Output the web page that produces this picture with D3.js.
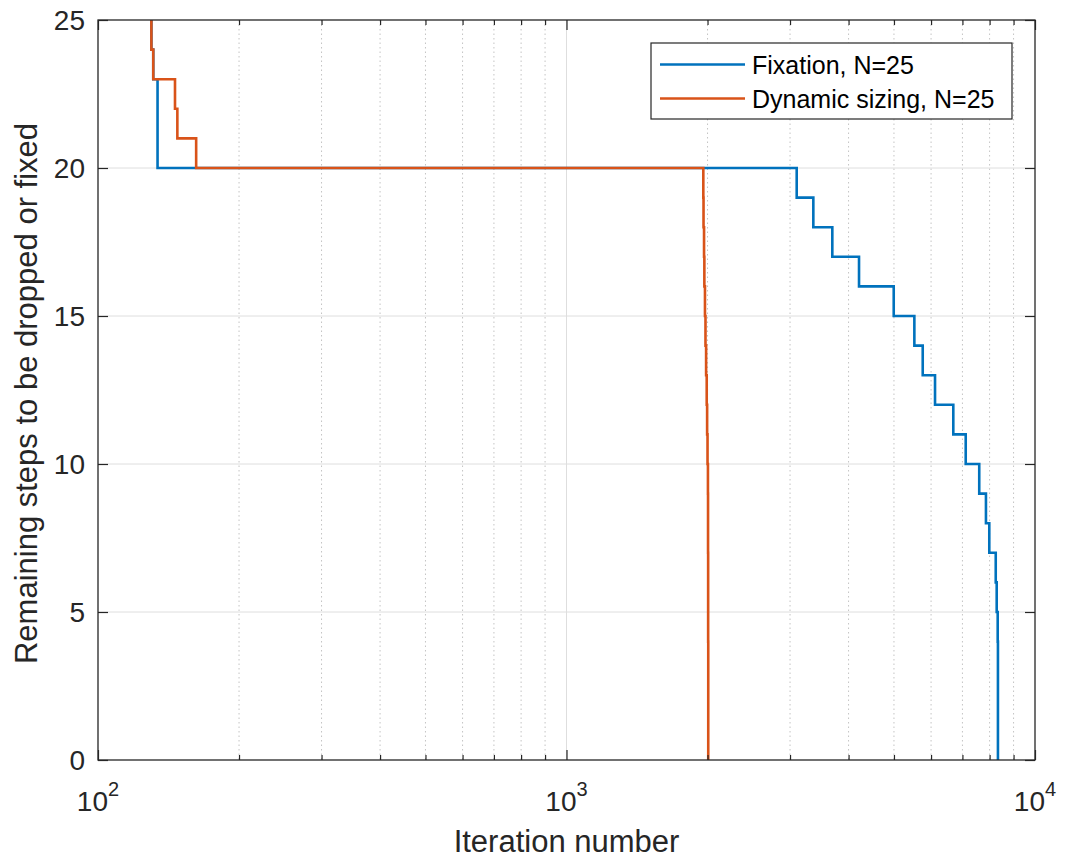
<!DOCTYPE html>
<html>
<head>
<meta charset="utf-8">
<script src="https://cdn.jsdelivr.net/npm/d3@7"></script>
<style>
  body { margin: 0; background: #fff; }
  svg { display: block; font-family: "Liberation Sans", Arial, Helvetica, sans-serif; }
</style>
</head>
<body>
<svg id="chart" width="1067" height="862"></svg>
<script>
// ---- data ----
const seriesNames = ["Fixation, N=25", "Dynamic sizing, N=25"];
// iteration where the remaining-count changes to the paired value (stairs)
const fixationX = [130, 130, 131.2, 134, 3100, 3364, 3693, 4211, 4994, 5527, 5759, 6118, 6693, 7114, 7603, 7858, 7988, 8245, 8284, 8325, 8335, 8335, 8335, 8335];
const fixationY = [25, 24, 23, 20, 19, 18, 17, 16, 15, 14, 13, 12, 11, 10, 9, 8, 7, 6, 5, 4, 3, 2, 1, 0];
const dynamicX = [130, 130, 131.2, 146, 147.7, 162, 1959, 1961, 1966, 1969, 1975, 1980, 1986, 1992, 1996, 2000, 2004, 2005, 2005, 2006, 2006, 2006, 2007, 2007, 2007, 2007];
const dynamicY = [25, 24, 23, 22, 21, 20, 19, 18, 17, 16, 15, 14, 13, 12, 11, 10, 9, 8, 7, 6, 5, 4, 3, 2, 1, 0];
const yTicks = [0, 5, 10, 15, 20, 25];
const xMajorTicks = [100, 1000, 10000];
const xTickExponents = ["2", "3", "4"];
const xMinorTicks = [200, 300, 400, 500, 600, 700, 800, 900, 2000, 3000, 4000, 5000, 6000, 7000, 8000, 9000];
const xLabel = "Iteration number";
const yLabel = "Remaining steps to be dropped or fixed";
const colors = ["#0072BD", "#D95319"];

// ---- layout ----
const svg = d3.select("#chart");
const L = 98, R = 1035, T = 20, B = 760;
const x = d3.scaleLog().domain([100, 10000]).range([L, R]);
const y = d3.scaleLinear().domain([0, 25]).range([B, T]);
const axisColor = "#262626";

svg.append("rect").attr("width", 1067).attr("height", 862).attr("fill", "#fff");

// clip
svg.append("defs").append("clipPath").attr("id", "clip")
  .append("rect").attr("x", L).attr("y", T).attr("width", R - L).attr("height", B - T);

// minor grid (dotted)
svg.append("g").selectAll("line").data(xMinorTicks).join("line")
  .attr("x1", d => x(d)).attr("x2", d => x(d)).attr("y1", T).attr("y2", B)
  .attr("stroke", "#c4c4c4").attr("stroke-width", 1).attr("stroke-dasharray", "1.5,3");

// major grid
const gGrid = svg.append("g");
gGrid.selectAll("line.h").data(yTicks.filter(d => d > 0 && d < 25)).join("line")
  .attr("x1", L).attr("x2", R).attr("y1", d => y(d)).attr("y2", d => y(d))
  .attr("stroke", "#dedede").attr("stroke-width", 1);
gGrid.selectAll("line.v").data(xMajorTicks.filter(d => d > 100 && d < 10000)).join("line")
  .attr("x1", d => x(d)).attr("x2", d => x(d)).attr("y1", T).attr("y2", B)
  .attr("stroke", "#dedede").attr("stroke-width", 1);

// data lines
const line = d3.line().x(d => x(d[0])).y(d => y(d[1])).curve(d3.curveStepAfter);
const series = [d3.zip(fixationX, fixationY), d3.zip(dynamicX, dynamicY)];
const gData = svg.append("g").attr("clip-path", "url(#clip)");
series.forEach((s, i) => {
  gData.append("path").datum(s).attr("d", line)
    .attr("fill", "none").attr("stroke", colors[i]).attr("stroke-width", 2.6)
    .attr("stroke-linejoin", "miter");
});

// axes box (inward ticks on all sides)
const tickLen = 10, minorLen = 5;
svg.append("rect").attr("x", L).attr("y", T).attr("width", R - L).attr("height", B - T)
  .attr("fill", "none").attr("stroke", axisColor).attr("stroke-width", 1.3);

const gxb = svg.append("g").attr("transform", `translate(0,${B})`).call(d3.axisBottom(x).tickValues(xMajorTicks).tickSize(-tickLen).tickFormat(""));
const gxt = svg.append("g").attr("transform", `translate(0,${T})`).call(d3.axisTop(x).tickValues(xMajorTicks).tickSize(-tickLen).tickFormat(""));
const gxbm = svg.append("g").attr("transform", `translate(0,${B})`).call(d3.axisBottom(x).tickValues(xMinorTicks).tickSize(-minorLen).tickFormat(""));
const gxtm = svg.append("g").attr("transform", `translate(0,${T})`).call(d3.axisTop(x).tickValues(xMinorTicks).tickSize(-minorLen).tickFormat(""));
const gyl = svg.append("g").attr("transform", `translate(${L},0)`).call(d3.axisLeft(y).tickValues(yTicks).tickSize(-tickLen).tickFormat(""));
const gyr = svg.append("g").attr("transform", `translate(${R},0)`).call(d3.axisRight(y).tickValues(yTicks).tickSize(-tickLen).tickFormat(""));
[gxb, gxt, gxbm, gxtm, gyl, gyr].forEach(g => {
  g.select(".domain").remove();
  g.selectAll(".tick line").attr("stroke", axisColor).attr("stroke-width", 1.2);
});

// y tick labels
svg.append("g").selectAll("text").data(yTicks).join("text")
  .attr("x", 85).attr("y", d => y(d)).attr("dy", "0.36em")
  .attr("text-anchor", "end").attr("font-size", 28).attr("fill", axisColor)
  .text(d => d);

// x tick labels 10^n
const xl = svg.append("g").selectAll("text").data(xMajorTicks).join("text")
  .attr("x", d => x(d)).attr("y", 811)
  .attr("text-anchor", "middle").attr("font-size", 28).attr("fill", axisColor);
xl.append("tspan").text("10");
xl.append("tspan").attr("dy", -15).attr("font-size", 20).text((d, i) => xTickExponents[i]);

// axis labels
svg.append("text").attr("x", (L + R) / 2).attr("y", 852)
  .attr("text-anchor", "middle").attr("font-size", 31).attr("fill", axisColor).text(xLabel);
svg.append("text").attr("transform", `translate(37,${(115 + 672) / 2}) rotate(-90)`)
  .attr("text-anchor", "middle").attr("font-size", 31).attr("fill", axisColor).text(yLabel);

// legend
const lg = svg.append("g");
lg.append("rect").attr("x", 651).attr("y", 43).attr("width", 361).attr("height", 76)
  .attr("fill", "#fff").attr("stroke", axisColor).attr("stroke-width", 1.2);
seriesNames.forEach((name, i) => {
  const cy = 64.5 + i * 34;
  lg.append("line").attr("x1", 660).attr("x2", 745).attr("y1", cy).attr("y2", cy)
    .attr("stroke", colors[i]).attr("stroke-width", 2.6);
  lg.append("text").attr("x", 752).attr("y", cy).attr("dy", "0.36em")
    .attr("font-size", 25).attr("fill", "#000").text(name);
});
</script>
</body>
</html>
